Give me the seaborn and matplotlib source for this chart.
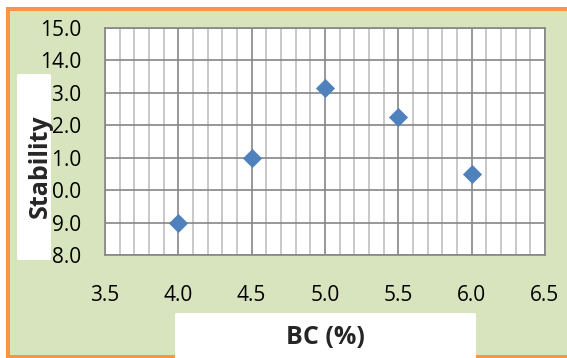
import matplotlib
matplotlib.use("Agg")
import matplotlib.pyplot as plt
import seaborn as sns
import pandas as pd
from matplotlib.patches import Rectangle, FancyBboxPatch
from matplotlib.ticker import MultipleLocator

bc_percent = [4.0, 4.5, 5.0, 5.5, 6.0]
stability = [9.0, 11.0, 13.15, 12.25, 10.5]
x_ticks = [3.5, 4.0, 4.5, 5.0, 5.5, 6.0, 6.5]
y_ticks = [8.0, 9.0, 10.0, 11.0, 12.0, 13.0, 14.0, 15.0]
x_label = "BC (%)"
y_label = "Stability"
title_text = "graph"

sns.set_style("white")
plt.rcParams['font.family'] = ['Open Sans', 'DejaVu Sans']

W, H = 567, 358
fig = plt.figure(figsize=(W / 100, H / 100), dpi=100)
fig.patch.set_facecolor("white")
fig.patch.set_edgecolor("none")

def fx(px):
    return px / W

def fy(py):
    return 1 - py / H

ORANGE = "#F79646"
GREEN = "#D7E4BD"
# green chart area (right side runs off the picture)
fig.patches.append(Rectangle((fx(10), fy(355)), 1.0, fy(11) - fy(355), transform=fig.transFigure,
                             facecolor=GREEN, edgecolor="none", zorder=-9))
# orange border strips: top, left, bottom
fig.patches.append(Rectangle((fx(6), fy(11)), 1.0, fy(7) - fy(11), transform=fig.transFigure,
                             facecolor=ORANGE, edgecolor="none", zorder=-8))
fig.patches.append(Rectangle((fx(6), -0.05), fx(10) - fx(6), fy(7) + 0.05, transform=fig.transFigure,
                             facecolor=ORANGE, edgecolor="none", zorder=-8))
fig.patches.append(Rectangle((fx(6), -0.05), 1.0, fy(355) + 0.05, transform=fig.transFigure,
                             facecolor=ORANGE, edgecolor="none", zorder=-8))

ax = fig.add_axes([fx(105), fy(255), fx(545) - fx(105), fy(28) - fy(255)])
ax.set_facecolor("white")

df = pd.DataFrame({"bc": bc_percent, "stab": stability})
sns.scatterplot(data=df, x="bc", y="stab", marker="D", s=95, color="#4F81BD",
                linewidth=0, ax=ax, zorder=5, clip_on=False)

ax.set_xlim(x_ticks[0], x_ticks[-1])
ax.set_ylim(y_ticks[0], y_ticks[-1])
ax.set_xticks(x_ticks)
ax.set_yticks(y_ticks)
ax.set_xticklabels([f"{v:.1f}" for v in x_ticks])
ax.set_yticklabels([f"{v:.1f}" for v in y_ticks])
ax.xaxis.set_minor_locator(MultipleLocator(0.1))

ax.grid(True, which="major", axis="both", color="#868686", linewidth=1.2)
ax.grid(True, which="minor", axis="x", color="#C0C0C0", linewidth=1.2)
ax.set_axisbelow(True)

for sp in ax.spines.values():
    sp.set_color("#868686")
    sp.set_linewidth(1.2)

ax.tick_params(axis="both", which="major", direction="out", length=5.8, width=1.2,
               color="#868686", labelsize=15, labelcolor="black")
ax.tick_params(axis="x", which="major", pad=16)
ax.tick_params(axis="y", which="major", pad=11.5)
ax.tick_params(axis="x", which="minor", length=0)
ax.set_xlabel("")
ax.set_ylabel("")

# y-label box and text
fig.patches.append(FancyBboxPatch((fx(17), fy(260)), fx(51) - fx(17), fy(74) - fy(260),
                                  boxstyle="round,pad=0,rounding_size=0.004",
                                  transform=fig.transFigure, facecolor="white",
                                  edgecolor="none", zorder=5))
fig.text(fx(40), fy(166), y_label, rotation=90, ha="center", va="center",
         fontsize=18, fontweight="bold", zorder=6)

# x-label box and text
fig.patches.append(FancyBboxPatch((fx(175), -0.05), fx(476) - fx(175), fy(313) + 0.05,
                                  boxstyle="round,pad=0,rounding_size=0.004",
                                  transform=fig.transFigure, facecolor="white",
                                  edgecolor="none", zorder=5))
fig.text(fx(325.5), fy(338), x_label, ha="center", va="center",
         fontsize=18, fontweight="bold", zorder=6)

# clipped title at very top (only descenders visible)
fig.text(fx(222), 1 + 5 / H, title_text, ha="left", va="baseline", fontsize=17,
         family=["Liberation Serif", "DejaVu Serif"], zorder=6)

fig.savefig("out.png", dpi=100)
